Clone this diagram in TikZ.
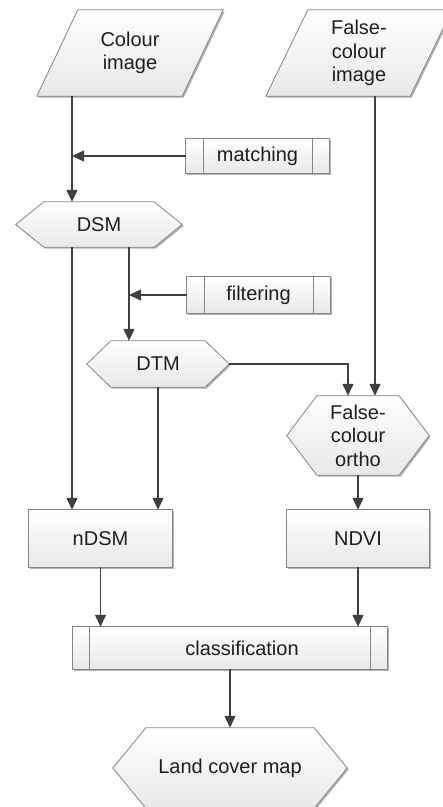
\documentclass[tikz,border=0pt]{standalone}
\usepackage{fontspec}
\setmainfont{Liberation Sans}
\usetikzlibrary{arrows.meta,backgrounds,shadows,calc}
\definecolor{linec}{HTML}{404040}
\definecolor{borderc}{HTML}{858585}
\definecolor{textc}{HTML}{1E1E1E}
\tikzset{
  base/.style={draw=none, inner sep=0pt, text=textc, align=center,
    font=\fontsize{20}{23.5}\selectfont},
  outline/.style={draw=borderc, line width=0.8pt, top color=white, bottom color=black!9,
    drop shadow={shadow xshift=1.5pt, shadow yshift=-1.5pt, opacity=0.3, fill=black}},
  inner/.style={draw=borderc, line width=0.8pt},
  conn/.style={draw=linec, line width=1.3pt, -{Triangle[length=12pt,width=11pt]}},
}
\newcommand\hexpath[2]{([xshift=#2pt]#1.north west) -- ([xshift=-#2pt]#1.north east) -- (#1.east) -- ([xshift=-#2pt]#1.south east) -- ([xshift=#2pt]#1.south west) -- (#1.west) -- cycle}
\newcommand\parpath[2]{([xshift=#2pt]#1.north west) -- (#1.north east) -- ([xshift=-#2pt]#1.south east) -- (#1.south west) -- cycle}
\newcommand\rectpath[1]{(#1.north west) rectangle (#1.south east)}
\newcommand\sidelines[3]{\draw[inner] ([xshift=#2pt]#1.north west) -- ([xshift=#2pt]#1.south west) ([xshift=-#3pt]#1.north east) -- ([xshift=-#3pt]#1.south east);}
\begin{document}
\begin{tikzpicture}[x=1pt,y=-1pt]
\useasboundingbox (0,0) rectangle (443,807);
% nodes (text + geometry)
\node[base, minimum width=186pt, minimum height=86pt] (ci) at (130,53) {Colour\\image};
\node[base, minimum width=186pt, minimum height=86pt] (fi) at (359,53) {False-\\colour\\image};
\node[base, minimum width=143pt, minimum height=34pt] (match) at (257.5,156) {matching};
\node[base, minimum width=166pt, minimum height=45pt] (dsm) at (99,224.5) {DSM};
\node[base, minimum width=143pt, minimum height=36pt] (filt) at (258.5,295) {filtering};
\node[base, minimum width=142pt, minimum height=46pt] (dtm) at (158,364) {DTM};
\node[base, minimum width=142pt, minimum height=79pt] (orth) at (358,435.5) {False-\\colour\\ortho};
\node[base, minimum width=143pt, minimum height=57pt] (ndsm) at (100.5,538.5) {nDSM};
\node[base, minimum width=142pt, minimum height=57pt] (ndvi) at (358,538.5) {NDVI};
\node[base, minimum width=314pt, minimum height=42pt] (cls) at (230,648) {\hspace*{24pt}classification};
\node[base, minimum width=234pt, minimum height=80pt] (land) at (230,768) {Land cover map};
% helper coordinates for connector columns
\coordinate (xA) at (72,0);
\coordinate (xB) at (129,0);
\coordinate (xC) at (348,0);
\coordinate (xD) at (375,0);
% shapes on background
\begin{pgfonlayer}{background}
  \clip (0,0) rectangle (443,807);
  \path[outline] \parpath{ci}{41};
  \path[outline] \parpath{fi}{42};
  \path[outline] \rectpath{match};
  \sidelines{match}{18}{17}
  \path[outline] \hexpath{dsm}{28};
  \path[outline] \rectpath{filt};
  \sidelines{filt}{18}{17}
  \path[outline] \hexpath{dtm}{24};
  \path[outline] \hexpath{orth}{30};
  \path[outline] \rectpath{ndsm};
  \path[outline] \rectpath{ndvi};
  \path[outline] \rectpath{cls};
  \sidelines{cls}{17}{17}
  \path[outline] \hexpath{land}{33};
\end{pgfonlayer}
% connectors
\begin{scope}
  \clip (0,0) rectangle (443,807);
  \draw[conn] (ci.south -| xA) -- (dsm.north -| xA);
  \draw[conn] (match.west) -- (match.west -| xA);
  \draw[conn] (dsm.south -| xA) -- (ndsm.north -| xA);
  \draw[conn] (dsm.south -| xB) -- (dtm.north -| xB);
  \draw[conn] (filt.west) -- (filt.west -| xB);
  \draw[conn] (dtm.south) -- (dtm.south |- ndsm.north);
  \draw[conn] (dtm.east) -| (orth.north -| xC);
  \draw[conn] (fi.south -| xD) -- (orth.north -| xD);
  \draw[conn] (orth.south) -- (ndvi.north);
  \draw[conn] (ndsm.south) -- (ndsm.south |- cls.north);
  \draw[conn] (ndvi.south) -- (ndvi.south |- cls.north);
  \draw[conn] (cls.south) -- (land.north);
\end{scope}
\end{tikzpicture}
\end{document}
